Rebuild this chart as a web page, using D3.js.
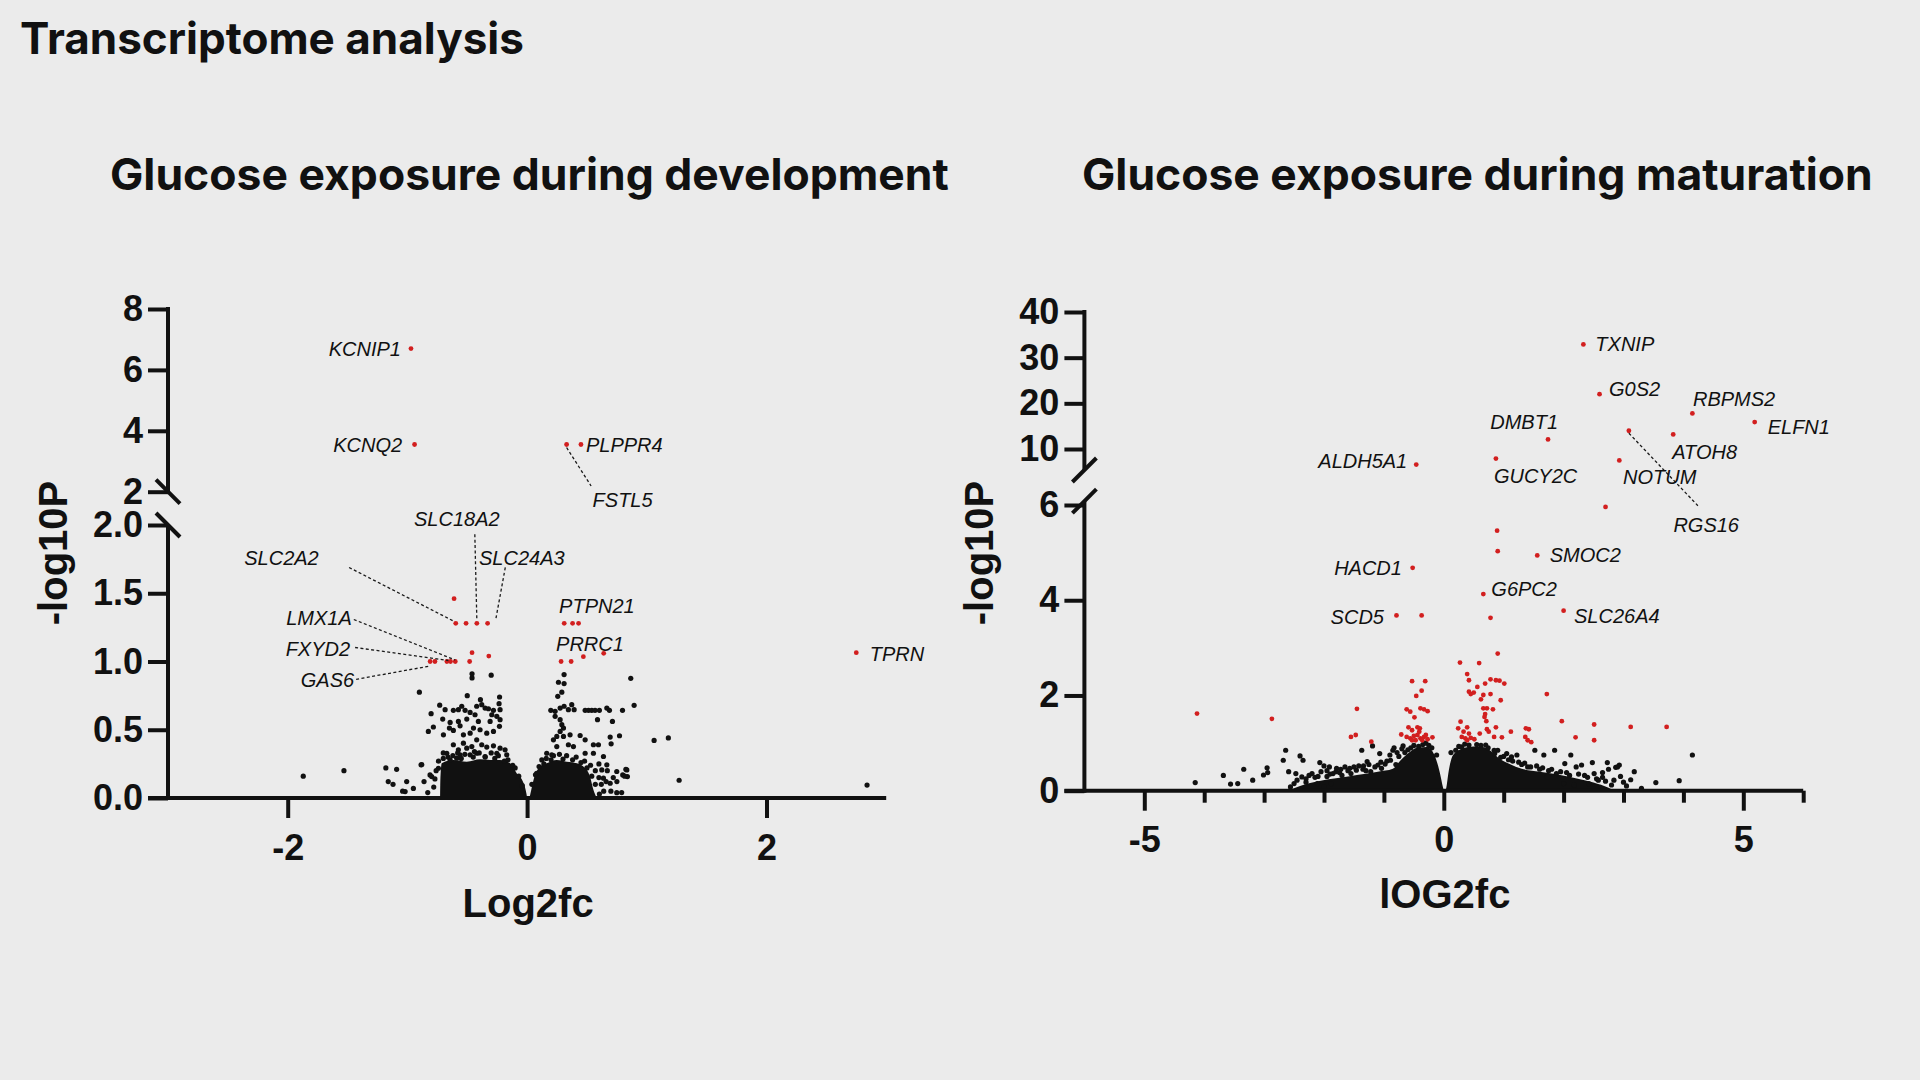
<!DOCTYPE html>
<html><head><meta charset="utf-8">
<script src="https://cdn.jsdelivr.net/npm/d3@7"></script>
<style>html,body{margin:0;padding:0;background:#ebebeb;}svg{display:block;}</style>
</head><body>
<script>
// ---------------- DATA ----------------
const pageTitle = "Transcriptome analysis";
const panelTitles = ["Glucose exposure during development", "Glucose exposure during maturation"];
const xTitles = ["Log2fc", "lOG2fc"];
const yTitle = "-log10P";

// Development panel
const devXTicks = [-2, 0, 2];
const devYTicksLow = [0, 0.5, 1.0, 1.5, 2.0];
const devYTicksHigh = [2, 4, 6, 8];
const devRed = [
  [-0.97,6.7],[-0.94,3.55],[0.33,3.55],[0.45,3.55],
  [-0.61,1.46],
  [-0.596,1.28],[-0.51,1.28],[-0.42,1.28],[-0.33,1.28],
  [-0.46,1.065],[-0.32,1.04],
  [-0.81,1.0],[-0.77,1.0],[-0.67,1.0],[-0.64,1.0],[-0.60,1.0],[-0.48,1.0],
  [0.31,1.28],[0.38,1.28],[0.43,1.28],
  [0.284,1.0],[0.368,1.0],[0.47,1.035],[0.64,1.06],
  [2.75,1.065]
];
const devLabelled = [
  ["KCNIP1",-0.97,6.7],["KCNQ2",-0.94,3.55],["PLPPR4",0.45,3.55],["FSTL5",0.33,3.55],
  ["SLC18A2",-0.42,1.28],["SLC2A2",-0.596,1.28],["SLC24A3",-0.33,1.28],["PTPN21",0.38,1.28],
  ["LMX1A",-0.60,1.0],["FXYD2",-0.67,1.0],["GAS6",-0.81,1.0],["PRRC1",0.47,1.035],["TPRN",2.75,1.065]
];
const devBlack = [
  [-0.46,0.91],[-0.46,0.88],[-0.30,0.90],[-0.90,0.775],[-0.50,0.75],[-0.39,0.72],[-0.23,0.74],
  [-0.73,0.68],[-0.685,0.647],[-0.616,0.642],[-0.574,0.647],[-0.546,0.672],[-0.518,0.642],[-0.421,0.672],
  [-0.379,0.684],[-0.351,0.659],[-0.323,0.654],[-0.281,0.642],[-0.234,0.691],[-0.226,0.647],[-0.253,0.598],
  [-0.295,0.61],[-0.435,0.61],[-0.476,0.627],
  [-0.802,0.618],[-0.705,0.578],[-0.643,0.554],[-0.574,0.561],[-0.504,0.578],[-0.407,0.561],[-0.309,0.561],
  [-0.226,0.574],[-0.448,0.512],[-0.56,0.529],[-0.616,0.495],[-0.532,0.463],[-0.476,0.475],[-0.393,0.5],
  [-0.337,0.475],[-0.281,0.488],[-0.231,0.525],[-0.825,0.488],[-0.783,0.52],[-0.699,0.463],[-0.649,0.512],
  [-0.616,0.39],[-0.574,0.353],[-0.532,0.402],[-0.504,0.365],[-0.462,0.377],[-0.421,0.426],[-0.379,0.39],
  [-0.337,0.373],[-0.281,0.382],[-0.226,0.365],[-0.253,0.328],[-0.421,0.328],[-0.476,0.316],[-0.56,0.316],
  [-0.588,0.292],[-0.671,0.328],[-0.643,0.279],[-0.351,0.304],[-0.17,0.316],[-0.184,0.353],
  [-0.886,0.243],[-0.741,0.218],[-0.811,0.169],[-0.861,0.12],[-1.006,0.12],[-1.019,0.047],[-0.797,0.157],
  [-1.87,0.16],[-1.53,0.2],[-1.18,0.22],[-1.09,0.21],[-1.16,0.12],[-1.12,0.1],[-1.04,0.05],[-0.88,0.245],
  [-0.95,0.07],[-0.83,0.04],
  [-0.70,0.29],[-0.66,0.30],[-0.55,0.29],[-0.45,0.30],[-0.35,0.30],[-0.27,0.29],[-0.19,0.27],[-0.12,0.24],
  [-0.76,0.2],[-0.74,0.27],[-0.7,0.33],[-0.62,0.31],[-0.58,0.33],[-0.52,0.32],[-0.44,0.34],[-0.4,0.33],
  [-0.3,0.33],[-0.24,0.31],[-0.16,0.28],[-0.1,0.22],[-0.78,0.08],[-0.77,0.14],[-0.07,0.16],[-0.04,0.09],
  [0.309,0.904],[0.262,0.848],[0.309,0.838],[0.29,0.775],[0.256,0.745],[0.866,0.877],[0.894,0.679],
  [1.061,0.422],[1.18,0.44],[1.27,0.13],[2.84,0.095],
  [0.198,0.642],[0.234,0.635],[0.276,0.659],[0.309,0.672],[0.345,0.647],[0.373,0.684],[0.393,0.647],
  [0.485,0.642],[0.513,0.642],[0.54,0.642],[0.568,0.642],[0.604,0.642],[0.666,0.659],[0.688,0.642],[0.797,0.642],
  [0.234,0.598],[0.276,0.574],[0.29,0.537],[0.304,0.512],[0.276,0.488],[0.248,0.451],[0.304,0.451],
  [0.359,0.463],[0.443,0.458],[0.485,0.426],[0.588,0.574],[0.713,0.561],[0.772,0.456],[0.694,0.446],
  [0.702,0.397],[0.554,0.39],[0.596,0.39],[0.387,0.377],[0.345,0.39],[0.248,0.377],[0.22,0.426],
  [0.164,0.328],[0.123,0.279],[0.206,0.316],[0.485,0.328],[0.554,0.328],[0.638,0.304],[0.666,0.243],
  [0.749,0.194],[0.833,0.206],[0.838,0.157],[0.799,0.169],[0.624,0.206],[0.638,0.145],[0.694,0.108],
  [0.604,0.029],[0.749,0.039],[0.815,0.16],[0.825,0.21],[0.70,0.05],[0.75,0.12],[0.79,0.04],
  [0.08,0.18],[0.14,0.25],[0.2,0.28],[0.3,0.285],[0.38,0.28],[0.45,0.26],[0.5,0.22],[0.54,0.16],[0.57,0.1],
  [0.04,0.1],[0.07,0.17],[0.1,0.23],[0.16,0.29],[0.22,0.31],[0.27,0.32],[0.33,0.31],[0.41,0.3],[0.48,0.27],
  [0.53,0.24],[0.57,0.2],[0.6,0.15],[0.62,0.1],[0.64,0.05],[0.66,0.12],[0.6,0.25],[0.67,0.2],[0.72,0.15]
];
// dense cores (envelope of overlapping points): [log2fc, -log10P top]
const devCoreNeg = [[-0.727,0],[-0.725,0.12],[-0.713,0.254],[-0.615,0.278],[-0.504,0.266],[-0.393,0.283],
  [-0.309,0.278],[-0.226,0.278],[-0.142,0.254],[-0.086,0.18],[-0.03,0.11],[-0.005,0.03],[0,0]];
const devCorePos = [[0.02,0],[0.035,0.06],[0.053,0.13],[0.109,0.23],[0.164,0.254],[0.248,0.278],[0.331,0.266],
  [0.415,0.254],[0.47,0.23],[0.526,0.156],[0.554,0.06],[0.582,0]];

// Maturation panel
const matXTicks = [-5, 0, 5];
const matXMinor = [-4, -3, -2, -1, 1, 2, 3, 4, 6];
const matYTicksLow = [0, 2, 4, 6];
const matYTicksHigh = [10, 20, 30, 40];
const matRed = [
  [2.33,32.9],[2.60,22.0],[4.15,17.8],[5.19,15.9],[1.74,12.1],[3.09,14.0],[3.83,13.2],[2.93,7.5],[0.87,7.9],[-0.46,6.6],
  [2.70,5.96],[0.89,5.46],[0.90,5.03],[1.56,4.94],[-0.52,4.68],[0.66,4.13],[2.0,3.78],[-0.79,3.68],[-0.37,3.68],[0.78,3.63],[0.90,2.88],
  [-4.12,1.62],[-2.87,1.51],[-1.45,1.72],[-1.55,1.13],[-1.47,1.17],[-1.21,1.03],
  [-0.53,2.30],[-0.31,2.30],[-0.37,2.10],[-0.46,1.99],[-0.62,1.71],[-0.56,1.66],[-0.49,1.54],[-0.39,1.73],[-0.33,1.71],[-0.27,1.67],
  [-0.71,1.18],[-0.59,1.33],[-0.53,1.27],[-0.44,1.33],[-0.40,1.31],[-0.62,1.13],[-0.56,1.10],[-0.50,1.15],[-0.44,1.17],
  [-0.39,1.10],[-0.33,1.13],[-0.27,1.08],[-0.19,1.12],[-0.47,1.06],[-0.36,1.06],[-0.53,1.06],[-0.41,1.24],[-0.30,1.17],
  [0.27,2.69],[0.59,2.68],[0.39,2.45],[0.42,2.32],[0.69,2.25],[0.56,2.18],[0.78,2.34],[0.87,2.32],[0.93,2.31],[1.01,2.25],
  [0.42,2.08],[0.45,2.03],[0.50,2.06],[0.66,2.01],[0.62,1.92],[0.78,2.03],[0.95,1.90],[0.66,1.73],[0.72,1.73],[0.82,1.71],
  [0.68,1.55],[0.71,1.46],[0.69,1.61],[0.28,1.45],
  [0.24,1.31],[0.39,1.33],[0.33,1.24],[0.42,1.20],[0.30,1.13],[0.36,1.10],[0.45,1.11],[0.39,1.06],[0.51,1.08],[0.60,1.20],
  [0.72,1.29],[0.75,1.24],[0.84,1.13],[0.87,1.33],[0.97,1.12],[1.12,1.24],[1.37,1.31],[1.42,1.29],[1.36,1.13],[1.40,1.06],[1.46,1.02],
  [1.72,2.03],[1.97,1.46],[2.20,1.12],[2.51,1.39],[2.51,1.06],[3.12,1.34],[3.72,1.34]
];
const matLabelled = [
  ["TXNIP",2.33,32.9],["G0S2",2.60,22.0],["RBPMS2",4.15,17.8],["ELFN1",5.19,15.9],["DMBT1",1.74,12.1],
  ["RGS16",3.09,14.0],["ATOH8",3.83,13.2],["NOTUM",2.93,7.5],["GUCY2C",0.87,7.9],["ALDH5A1",-0.46,6.6],
  ["SMOC2",1.56,4.94],["HACD1",-0.52,4.68],["G6PC2",0.66,4.13],["SLC26A4",2.0,3.78],["SCD5",-0.79,3.68]
];
const matBlack = [
  [-4.15,0.17],[-3.68,0.32],[-3.56,0.14],[-3.44,0.15],[-3.34,0.45],[-3.19,0.22],[-3.01,0.33],[-2.94,0.38],
  [-2.95,0.48],[-2.64,0.85],[-2.68,0.64],[-2.59,0.40],[-2.47,0.36],[-2.40,0.73],[-2.35,0.64],[-2.37,0.29],
  [-2.56,0.08],[-2.20,0.36],[-2.07,0.59],[-2.00,0.52],[-1.91,0.50],[-1.85,0.36],[-1.79,0.47],[-1.74,0.38],
  [-1.65,0.50],[-1.57,0.47],[-2.11,0.15],[-2.00,0.08],[-1.88,0.15],[-1.37,0.85],[-1.19,0.94],[-1.07,0.78],
  [-0.83,0.90],[-0.68,0.94],[-0.98,0.56],[-1.10,0.54],[-1.28,0.61],[-1.46,0.43],[-1.34,0.52],[-1.22,0.40],
  [-1.04,0.47],[-0.89,0.64],[-2.3,0.25],[-2.15,0.28],[-1.95,0.3],[-1.7,0.32],[-1.55,0.36],[-1.3,0.42],
  [-0.5,0.95],[-0.35,0.97],[-0.25,0.95],[-0.42,0.93],[-0.6,0.86],[-0.75,0.72],[-0.8,0.55],
  [-2.5,0.15],[-2.45,0.22],[-2.3,0.18],[-2.25,0.32],[-2.1,0.3],[-2.05,0.4],[-1.95,0.42],[-1.9,0.35],
  [-1.8,0.4],[-1.72,0.45],[-1.6,0.42],[-1.5,0.5],[-1.42,0.52],[-1.35,0.45],[-1.25,0.55],[-1.15,0.5],
  [-1.05,0.6],[-0.95,0.62],[-0.9,0.75],[-0.85,0.85],[-0.78,0.8],[-0.7,0.88],[-0.65,0.8],[-0.55,0.9],
  [-0.3,1.0],[-0.2,0.9],[-0.12,0.75],
  [0.3,0.92],[0.42,0.96],[0.55,0.97],[0.62,0.95],[0.74,0.9],[0.2,0.85],[0.85,0.78],[0.95,0.7],
  [0.12,0.8],[0.25,0.93],[0.35,0.98],[0.7,0.96],[0.9,0.85],[1.0,0.72],[1.08,0.65],[1.15,0.62],[1.25,0.6],
  [1.35,0.58],[1.45,0.5],[1.55,0.52],[1.65,0.48],[1.8,0.45],[1.95,0.4],[2.1,0.32],[2.25,0.35],[2.4,0.28],
  [2.55,0.25],[2.7,0.2],[2.8,0.12],[2.95,0.3],[3.0,0.18],[2.65,0.38],
  [1.52,0.85],[1.67,0.75],[1.85,0.85],[2.12,0.75],[2.02,0.57],[2.21,0.50],[2.30,0.54],[2.48,0.59],
  [2.73,0.59],[2.87,0.49],[2.93,0.54],[2.84,0.22],[2.51,0.36],[2.42,0.15],[2.18,0.12],[2.00,0.15],
  [1.88,0.36],[1.73,0.29],[1.40,0.50],[1.22,0.75],[1.13,0.71],[1.05,0.78],[0.84,0.85],
  [1.3,0.55],[1.6,0.45],[1.75,0.42],[2.05,0.38],[2.35,0.32],[2.65,0.28],
  [4.15,0.75],[3.93,0.21],[3.54,0.17],[3.12,0.23],[3.18,0.40],[2.75,0.45],[2.9,0.50],[2.58,0.22],[3.05,0.1],[3.3,0.05]
];
const matCoreNeg = [[-2.6,0],[-2.4,0.1],[-2.1,0.2],[-1.8,0.26],[-1.45,0.33],[-1.1,0.4],[-0.85,0.46],[-0.75,0.6],
  [-0.6,0.78],[-0.45,0.9],[-0.28,0.92],[-0.16,0.76],[-0.07,0.4],[-0.01,0.05],[0,0]];
const matCorePos = [[0.02,0],[0.04,0.05],[0.08,0.4],[0.15,0.74],[0.3,0.88],[0.5,0.93],[0.65,0.92],[0.8,0.82],
  [0.92,0.68],[1.1,0.56],[1.3,0.46],[1.6,0.4],[1.9,0.34],[2.2,0.26],[2.5,0.17],[2.75,0.06],[2.85,0]];

// ---------------- LAYOUT / STYLE ----------------
const BG = "#ebebeb", INK = "#111111", RED = "#d21f1f";
const AX_FONT = "'Liberation Sans', Arial, Helvetica, sans-serif";
const TITLE_FONT = "Inter, 'Noto Sans', sans-serif";

const svg = d3.select("body").append("svg").attr("width", 1920).attr("height", 1080);
svg.append("rect").attr("width", 1920).attr("height", 1080).attr("fill", BG);

function fitText(sel, target) {
  const w = sel.node().getComputedTextLength();
  const fs = parseFloat(sel.attr("font-size"));
  sel.attr("font-size", (fs * target / w).toFixed(2));
}
const t0 = svg.append("text").attr("x", 20).attr("y", 54).attr("font-family", TITLE_FONT)
  .attr("font-weight", 700).attr("font-size", 44).attr("fill", INK).text(pageTitle);
fitText(t0, 504);
const t1 = svg.append("text").attr("x", 110).attr("y", 190).attr("font-family", TITLE_FONT)
  .attr("font-weight", 700).attr("font-size", 44).attr("fill", INK).text(panelTitles[0]);
fitText(t1, 839);
const t2 = svg.append("text").attr("x", 1082).attr("y", 190).attr("font-family", TITLE_FONT)
  .attr("font-weight", 700).attr("font-size", 44).attr("fill", INK).text(panelTitles[1]);
fitText(t2, 791);

function drawPanel(c) {
  const g = svg.append("g");
  const yPos = v => v > c.breakAt ? c.yHigh(v) : c.yLow(v);

  // dense cores
  const area = d3.area().curve(d3.curveMonotoneX)
    .x(d => c.x(d[0])).y0(c.yLow(0)).y1(d => c.yLow(d[1]));
  c.cores.forEach(core => g.append("path").attr("d", area(core)).attr("fill", INK));

  g.selectAll(".blk").data(c.black).join("circle")
    .attr("cx", d => c.x(d[0])).attr("cy", d => yPos(d[1])).attr("r", 2.6).attr("fill", INK);
  g.selectAll(".red").data(c.red).join("circle")
    .attr("cx", d => c.x(d[0])).attr("cy", d => yPos(d[1])).attr("r", 2.4).attr("fill", RED);

  // labels
  c.labelled.forEach(([gene, lx, ly]) => {
    const L = c.layout[gene];
    const px = c.x(lx), py = yPos(ly);
    if (L.lead) {
      g.append("line").attr("x1", px + L.lead[0]).attr("y1", py + L.lead[1])
        .attr("x2", px + L.lead[2]).attr("y2", py + L.lead[3])
        .attr("stroke", "#1a1a1a").attr("stroke-width", 1.3).attr("stroke-dasharray", "3,2.4");
    }
    g.append("text").attr("x", px + L.dx).attr("y", py + L.dy).attr("text-anchor", L.anchor || "start")
      .attr("font-family", AX_FONT).attr("font-style", "italic").attr("font-size", 20).attr("fill", INK).text(gene);
  });

  // axes
  const styleAxis = (sel) => {
    sel.select(".domain").remove();
    sel.selectAll(".tick line").attr("stroke", INK).attr("stroke-width", 4);
    sel.selectAll(".tick text").attr("fill", INK).attr("font-family", AX_FONT)
      .attr("font-weight", "bold").attr("font-size", 36);
  };
  const yax = c.x.range()[0];
  g.append("g").attr("transform", `translate(${yax},0)`)
    .call(d3.axisLeft(c.yLow).tickValues(c.yTicksLow).tickSize(20).tickPadding(5).tickFormat(c.fmtLow)).call(styleAxis);
  g.append("g").attr("transform", `translate(${yax},0)`)
    .call(d3.axisLeft(c.yHigh).tickValues(c.yTicksHigh).tickSize(20).tickPadding(5).tickFormat(d3.format("d"))).call(styleAxis);
  const xBase = c.yLow(0);
  g.append("g").attr("transform", `translate(0,${xBase})`)
    .call(d3.axisBottom(c.x).tickValues(c.xTicks).tickSize(20).tickPadding(16).tickFormat(d => String(d))).call(styleAxis);
  if (c.xMinor) {
    g.append("g").attr("transform", `translate(0,${xBase})`)
      .call(d3.axisBottom(c.x).tickValues(c.xMinor).tickSize(12).tickFormat(() => "")).call(styleAxis);
  }
  // axis lines
  const line = (x1, y1, x2, y2) => g.append("line").attr("x1", x1).attr("y1", y1).attr("x2", x2).attr("y2", y2)
    .attr("stroke", INK).attr("stroke-width", 4);
  line(yax - 20, xBase, c.x.range()[1], xBase);
  line(yax, xBase + 2, yax, c.lowTop);
  line(yax, c.highBottom, yax, c.yHigh(c.yTicksHigh[c.yTicksHigh.length - 1]) - 2);
  // break marks
  [c.highBottom, c.lowTop].forEach(yb => {
    line(yax - 12, yb + c.slash * 12, yax + 12, yb - c.slash * 12);
  });

  // axis titles
  g.append("text").attr("transform", `translate(${c.yTitleX},553) rotate(-90)`).attr("text-anchor", "middle")
    .attr("font-family", AX_FONT).attr("font-weight", "bold").attr("font-size", 40).attr("fill", INK).text(yTitle);
  g.append("text").attr("x", c.x(0) + 1).attr("y", c.xTitleY).attr("text-anchor", "middle")
    .attr("font-family", AX_FONT).attr("font-weight", "bold").attr("font-size", 40).attr("fill", INK).text(c.xTitle);
}

const devLayout = {
  KCNIP1: {dx: -10, dy: 7, anchor: "end"},
  KCNQ2: {dx: -12.5, dy: 7, anchor: "end"},
  PLPPR4: {dx: 5, dy: 7},
  FSTL5: {dx: 26, dy: 62, lead: [0, 3, 24.5, 41.5]},
  SLC18A2: {dx: -20, dy: -97, anchor: "middle", lead: [-2, -89, 0, -4]},
  SLC2A2: {dx: -137, dy: -58, anchor: "end", lead: [-106.7, -55.8, -3, -2.6]},
  SLC24A3: {dx: -8.6, dy: -58, lead: [17.7, -55.8, 8.2, -4]},
  PTPN21: {dx: -13.5, dy: -10.6},
  LMX1A: {dx: -103.5, dy: -37, anchor: "end", lead: [-101.5, -42, 0, -1.5]},
  FXYD2: {dx: -96.8, dy: -6, anchor: "end", lead: [-91.8, -14, 1.5, -1]},
  GAS6: {dx: -76, dy: 25.5, anchor: "end", lead: [-74, 17.8, 0, 4.5]},
  PRRC1: {dx: -27.3, dy: -5.4},
  TPRN: {dx: 13.4, dy: 8.4}
};
const matLayout = {
  TXNIP: {dx: 12, dy: 7},
  G0S2: {dx: 9.5, dy: 2},
  RBPMS2: {dx: 0.6, dy: -7},
  ELFN1: {dx: 13, dy: 12},
  DMBT1: {dx: 10, dy: -10.4, anchor: "end"},
  RGS16: {dx: 44.5, dy: 101, lead: [0, 2.5, 69, 75]},
  ATOH8: {dx: -1, dy: 25},
  NOTUM: {dx: 3.7, dy: 24},
  GUCY2C: {dx: -2, dy: 24},
  ALDH5A1: {dx: -9, dy: 3.5, anchor: "end"},
  SMOC2: {dx: 12.5, dy: 7},
  HACD1: {dx: -10.7, dy: 7, anchor: "end"},
  G6PC2: {dx: 8, dy: 2},
  SLC26A4: {dx: 10.4, dy: 12},
  SCD5: {dx: -12.5, dy: 9, anchor: "end"}
};

// development panel
const devY_low = d3.scaleLinear().domain([0, 2]).range([798, 525]);
const devY_high = d3.scaleLinear().domain([2, 8]).range([491.7, 309]);
drawPanel({
  x: d3.scaleLinear().domain([-3, 3]).range([168, 886.2]),
  yLow: devY_low, yHigh: devY_high, breakAt: 2,
  lowTop: devY_low(2), highBottom: devY_high(2), slash: -1,
  yTicksLow: devYTicksLow, yTicksHigh: devYTicksHigh, fmtLow: d3.format(".1f"),
  xTicks: devXTicks, xMinor: null,
  black: devBlack, red: devRed, cores: [devCoreNeg, devCorePos],
  labelled: devLabelled, layout: devLayout,
  yTitleX: 67, xTitle: xTitles[0], xTitleY: 917
});

// maturation panel
const matY_low = d3.scaleLinear().domain([0, 6]).range([790.7, 505]);
const matY_high = d3.scaleLinear().domain([10, 40]).range([449, 312]);
drawPanel({
  x: d3.scaleLinear().domain([-6, 6]).range([1084.4, 1803.2]),
  yLow: matY_low, yHigh: matY_high, breakAt: 6,
  lowTop: matY_low(6.08), highBottom: matY_high(5.4), slash: 1,
  yTicksLow: matYTicksLow, yTicksHigh: matYTicksHigh, fmtLow: d3.format("d"),
  xTicks: matXTicks, xMinor: matXMinor,
  black: matBlack, red: matRed, cores: [matCoreNeg, matCorePos],
  labelled: matLabelled, layout: matLayout,
  yTitleX: 993, xTitle: xTitles[1], xTitleY: 908
});
</script>
</body></html>
